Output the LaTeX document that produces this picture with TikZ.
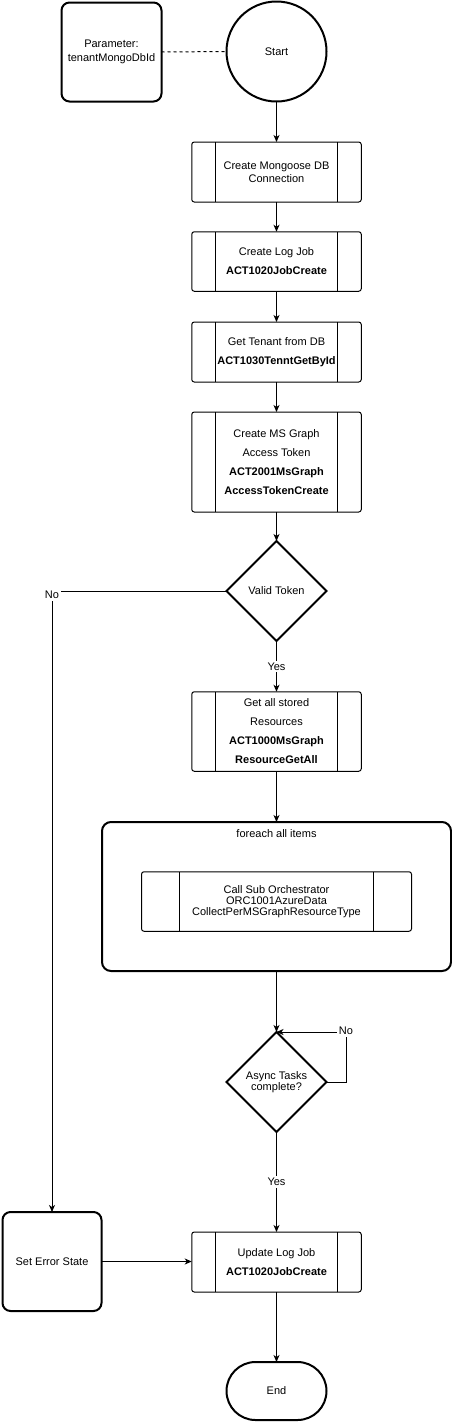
\documentclass[tikz,border=0pt]{standalone}
\usepackage{fontspec}
\setmainfont{Liberation Sans}
\usetikzlibrary{shapes.geometric,arrows.meta}
\begin{document}
\begin{tikzpicture}[x=1pt,y=-1pt,
  every node/.style={outer sep=0pt, inner sep=0pt, text=black},
  txt/.style={font=\fontsize{11}{13}\selectfont, align=center},
  proc/.style={draw, line width=1pt, rounded corners=2.5pt, minimum width=169.5pt, minimum height=#1, align=center, font=\fontsize{11}{19}\selectfont},
  thickbox/.style={draw, line width=2pt, rounded corners=8pt, align=center, font=\fontsize{11}{13.3}\selectfont},
  dia/.style={draw, line width=2pt, diamond, aspect=1, minimum width=100pt, minimum height=100pt, align=center, font=\fontsize{11}{11.6}\selectfont},
  conn/.style={line width=1pt, -{Stealth[length=7pt,width=6pt,inset=2pt]}},
  lbl/.style={fill=white, inner sep=2pt, font=\fontsize{11}{13}\selectfont},
]
\useasboundingbox (0,0) rectangle (452,1422);

% top
\node[thickbox, minimum width=100pt, minimum height=99pt] (param) at (111.5,52) {Parameter:\\tenantMongoDbId};
\node[draw, circle, line width=2pt, minimum size=100pt, font=\fontsize{11}{13}\selectfont] (start) at (276.5,51.5) {Start};

% process boxes
\node[proc=60pt, font=\fontsize{11}{12.6}\selectfont] (p1) at (276.5,172) {Create Mongoose DB\\Connection};
\node[proc=59.5pt] (p2) at (276.5,261.5) {Create Log Job\\\textbf{ACT1020JobCreate}};
\node[proc=60pt] (p3) at (276.5,352) {Get Tenant from DB\\\textbf{ACT1030TenntGetById}};
\node[proc=100pt] (p4) at (276.5,462) {Create MS Graph\\Access Token\\\textbf{ACT2001MsGraph}\\\textbf{AccessTokenCreate}};
\node[dia] (v1) at (276.5,591) {Valid Token};
\node[proc=79.5pt] (p5) at (276.5,731.5) {Get all stored\\Resources\\\textbf{ACT1000MsGraph}\\\textbf{ResourceGetAll}};

% foreach container
\node[draw, line width=2pt, rounded corners=9pt, minimum width=349pt, minimum height=149pt] (loop) at (276.5,896.5) {};
\node[txt] (looplbl) at (276.5,834) {foreach all items};
\node[proc=59.5pt, minimum width=270pt, font=\fontsize{11}{11.3}\selectfont] (orc) at (276.5,901.5) {Call Sub Orchestrator\\ORC1001AzureData\\CollectPerMSGraphResourceType};

\node[dia] (v2) at (276.5,1082) {Async Tasks\\complete?};
\node[thickbox, minimum width=99pt, minimum height=99pt] (err) at (52,1261.5) {Set Error State};
\node[proc=60pt] (p6) at (276.5,1262) {Update Log Job\\\textbf{ACT1020JobCreate}};
\node[draw, line width=2pt, rounded corners=29pt, minimum width=100pt, minimum height=58pt, font=\fontsize{11}{13}\selectfont] (end) at (276.5,1391) {End};

% inner bars of process boxes
\foreach \n/\d in {p1/24,p2/24,p3/24,p4/24,p5/24,p6/24,orc/38.3}{
  \draw[line width=1pt] ([xshift=\d pt]\n.north west) -- ([xshift=\d pt]\n.south west);
  \draw[line width=1pt] ([xshift=-\d pt]\n.north east) -- ([xshift=-\d pt]\n.south east);
}

% connectors
\draw[line width=1pt, dash pattern=on 3pt off 3pt] (param.east) -- (start.west);
\draw[conn] (start) -- (p1);
\draw[conn] (p1) -- (p2);
\draw[conn] (p2) -- (p3);
\draw[conn] (p3) -- (p4);
\draw[conn] (p4) -- (v1);
\draw[conn] (v1) -- node[lbl] (yes1) {Yes} (p5);
\draw[conn] (p5) -- (loop);
\draw[conn] (loop) -- (v2);
\draw[conn] (v2.east) -- ++(19.5,0) |- (v2.north);
\node[lbl] (no2) at (346,1031) {No};
\draw[conn] (v2) -- node[lbl] (yes2) {Yes} (p6);
\draw[conn] (v1.west) -| (err.north);
\node[lbl] (no1) at (52,595) {No};
\draw[conn] (err.east) -- (err.east -| p6.west);
\draw[conn] (p6) -- (end);
\end{tikzpicture}
\end{document}
